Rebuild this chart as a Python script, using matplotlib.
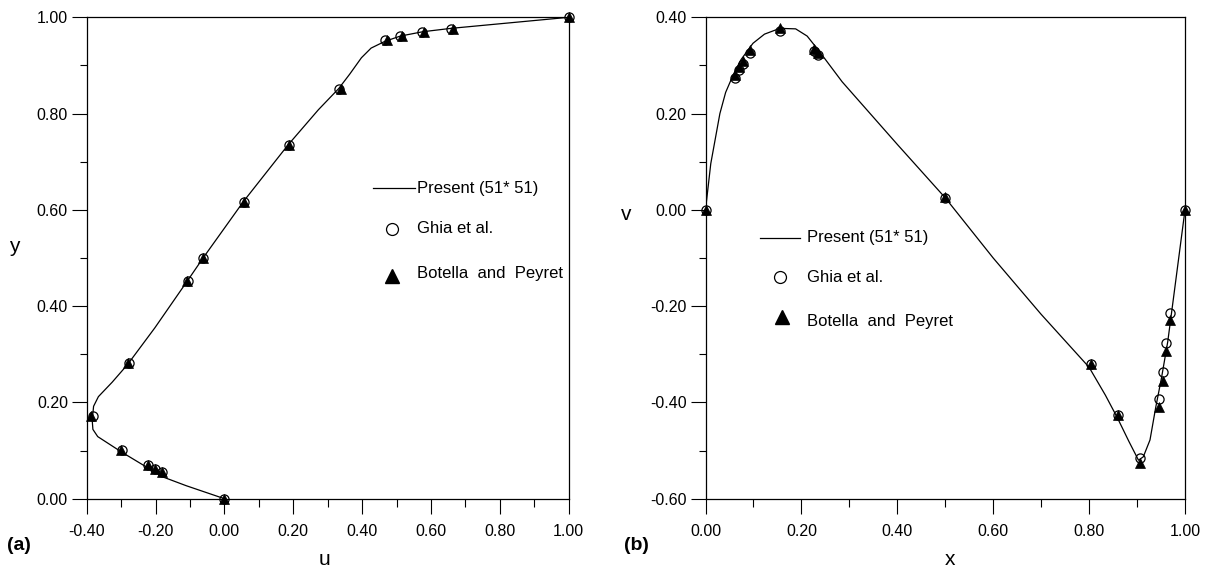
import matplotlib
matplotlib.use("Agg")
import matplotlib.pyplot as plt
import numpy as np
from matplotlib.ticker import MultipleLocator, FormatStrFormatter

plt.rcParams['font.family'] = ['Liberation Sans', 'DejaVu Sans']
plt.rcParams['axes.unicode_minus'] = False

# ---- u-velocity along the vertical centreline (panel a) ----
present_u = [0.0, -0.111, -0.178, -0.227, -0.300, -0.368, -0.382, -0.384,
             -0.380, -0.366, -0.326, -0.281, -0.202, -0.107, -0.062, 0.056,
             0.185, 0.273, 0.332, 0.364, 0.398, 0.426, 0.466, 0.511, 0.576,
             0.658, 1.0]
present_uy = [0.0, 0.027, 0.045, 0.066, 0.0975, 0.129, 0.144, 0.163,
              0.192, 0.212, 0.242, 0.279, 0.355, 0.453, 0.500, 0.618,
              0.735, 0.808, 0.852, 0.882, 0.916, 0.936, 0.950, 0.961, 0.970,
              0.977, 1.0]

y_ref = [1.0000, 0.9766, 0.9688, 0.9609, 0.9531, 0.8516, 0.7344, 0.6172,
         0.5000, 0.4531, 0.2813, 0.1719, 0.1016, 0.0703, 0.0625, 0.0547, 0.0000]
u_ghia = [1.0, 0.65928, 0.57492, 0.51117, 0.46604, 0.33304, 0.18719, 0.05702,
          -0.06080, -0.10648, -0.27805, -0.38289, -0.29730, -0.22220,
          -0.20196, -0.18109, 0.0]
u_botella = [1.0, 0.6644, 0.5808, 0.5169, 0.4723, 0.3372, 0.1887, 0.0570,
             -0.0621, -0.1082, -0.2804, -0.3886, -0.3005, -0.2229,
             -0.2023, -0.1813, 0.0]

# ---- v-velocity along the horizontal centreline (panel b) ----
present_x = [0.0, 0.011, 0.030, 0.042, 0.058, 0.074, 0.099, 0.123, 0.155,
             0.188, 0.212, 0.236, 0.285, 0.400, 0.500, 0.600, 0.700, 0.760,
             0.800, 0.834, 0.859, 0.883, 0.903, 0.913, 0.927, 0.939, 0.951,
             0.964, 0.976, 1.0]
present_v = [0.0, 0.096, 0.200, 0.244, 0.281, 0.312, 0.346, 0.365, 0.377,
             0.376, 0.361, 0.331, 0.266, 0.136, 0.025, -0.100, -0.217, -0.283,
             -0.327, -0.385, -0.432, -0.481, -0.520, -0.513, -0.478, -0.410,
             -0.349, -0.274, -0.183, 0.0]

x_ref = [1.0000, 0.9688, 0.9609, 0.9531, 0.9453, 0.9063, 0.8594, 0.8047,
         0.5000, 0.2344, 0.2266, 0.1563, 0.0938, 0.0781, 0.0703, 0.0625, 0.0000]
v_ghia = [0.0, -0.21388, -0.27669, -0.33714, -0.39188, -0.51550, -0.42665,
          -0.31966, 0.02526, 0.32235, 0.33075, 0.37095, 0.32627, 0.30353,
          0.29012, 0.27485, 0.0]
v_botella = [0.0, -0.2279, -0.2937, -0.3553, -0.4104, -0.5264, -0.4265,
             -0.3202, 0.0258, 0.3254, 0.3340, 0.3769, 0.3330, 0.3099,
             0.2963, 0.2807, 0.0]

labels = ["Present (51* 51)", "Ghia et al.", "Botella  and  Peyret"]

W, H = 1218, 568
fig = plt.figure(figsize=(W / 100, H / 100), dpi=100)

def px_axes(x0, x1, ytop, ybot):
    return fig.add_axes([x0 / W, 1 - ybot / H, (x1 - x0) / W, (ybot - ytop) / H])

axa = px_axes(86.7, 568.7, 17.3, 498.7)
axb = px_axes(705.5, 1185.0, 17.3, 498.7)

def style(ax, xlim, ylim):
    ax.set_xlim(*xlim)
    ax.set_ylim(*ylim)
    ax.xaxis.set_major_locator(MultipleLocator(0.2))
    ax.xaxis.set_minor_locator(MultipleLocator(0.1))
    ax.yaxis.set_major_locator(MultipleLocator(0.2))
    ax.yaxis.set_minor_locator(MultipleLocator(0.1))
    ax.xaxis.set_major_formatter(FormatStrFormatter('%.2f'))
    ax.yaxis.set_major_formatter(FormatStrFormatter('%.2f'))
    ax.tick_params(which='both', direction='out', top=False, right=False,
                   width=0.8, labelsize=11.5)
    ax.tick_params(which='major', length=10.8)
    ax.tick_params(which='minor', length=5.4)
    ax.tick_params(axis='x', which='major', pad=7.5)
    ax.tick_params(axis='y', which='major', pad=2.7)
    for s in ax.spines.values():
        s.set_linewidth(0.9)

def draw(ax, xs, ys, xr, yg, yb_x, yb):
    ax.plot(xs, ys, color='black', lw=0.9, zorder=2)
    ax.plot(xr, yg, linestyle='none', marker='o', ms=6.6, mfc='none',
            mec='black', mew=0.9, clip_on=False, zorder=3)
    ax.plot(yb_x, yb, linestyle='none', marker='^', ms=7.4, mfc='black',
            mec='black', mew=0.5, clip_on=False, zorder=4)

style(axa, (-0.4, 1.0), (0.0, 1.0))
style(axb, (0.0, 1.0), (-0.6, 0.4))

draw(axa, present_u, present_uy, u_ghia, y_ref, u_botella, y_ref)
draw(axb, present_x, present_v, x_ref, v_ghia, x_ref, v_botella)

def key(ax, line_x, line_y, text_x, circ, text_y2, tri, text_y3, text_y1):
    tr = ax.transAxes
    ax.plot(line_x, [line_y, line_y], color='black', lw=0.9,
            transform=tr, clip_on=False)
    ax.text(text_x, text_y1, labels[0], transform=tr, fontsize=12,
            va='center', ha='left')
    ax.plot([circ[0]], [circ[1]], marker='o', ms=8.6, mfc='none',
            mec='black', mew=0.9, transform=tr, clip_on=False)
    ax.text(text_x, text_y2, labels[1], transform=tr, fontsize=12,
            va='center', ha='left')
    ax.plot([tri[0]], [tri[1]], marker='^', ms=10, mfc='black',
            mec='black', transform=tr, clip_on=False)
    ax.text(text_x, text_y3, labels[2], transform=tr, fontsize=12,
            va='center', ha='left')

key(axa, [0.5946, 0.6815], 0.6454, 0.6856, (0.6334, 0.5604), 0.562,
    (0.6334, 0.4626), 0.468, 0.6454)
key(axb, [0.1143, 0.1977], 0.5424, 0.2117, (0.1547, 0.4605), 0.4605,
    (0.1589, 0.3774), 0.3679, 0.5424)

fig.text(14.4 / W, 1 - 246 / H, "y", fontsize=15, ha='center', va='center')
fig.text(325 / W, 1 - 559.6 / H, "u", fontsize=15, ha='center', va='center')
fig.text(19.4 / W, 1 - 546 / H, "(a)", fontsize=14, fontweight='bold',
         ha='center', va='center')
fig.text(626.5 / W, 1 - 214.4 / H, "v", fontsize=15, ha='center', va='center')
fig.text(950.5 / W, 1 - 559.6 / H, "x", fontsize=15, ha='center', va='center')
fig.text(636 / W, 1 - 546 / H, "(b)", fontsize=14, fontweight='bold',
         ha='center', va='center')

fig.savefig("out.png", dpi=100)
